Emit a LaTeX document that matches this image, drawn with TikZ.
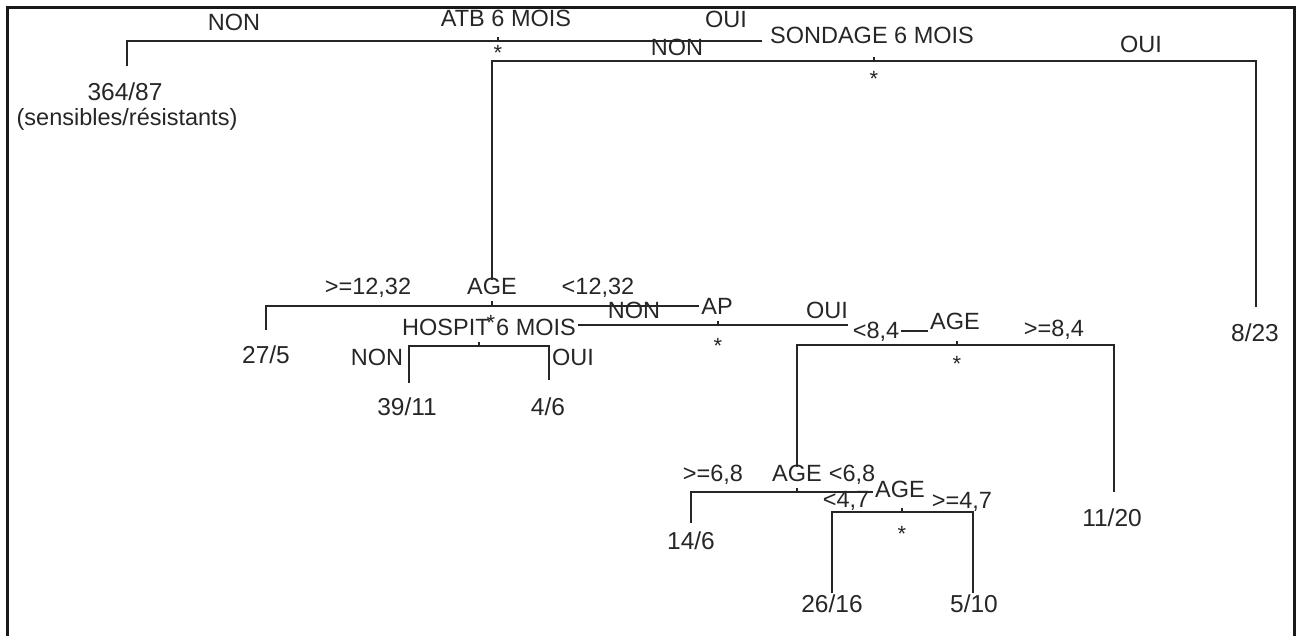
\documentclass[tikz,border=0pt]{standalone}
\usepackage{fontspec}
\setmainfont{Liberation Sans}
\begin{document}
\begin{tikzpicture}[x=1pt,y=-1pt,
  lbl/.style={font=\fontsize{23.5}{28}\selectfont, text=black!85, inner sep=0pt, text height=0.716em, text depth=0pt, anchor=center},
  leaf/.style={lbl, font=\fontsize{24.5}{29}\selectfont},
  starlbl/.style={font=\fontsize{22}{26}\selectfont, text=black!85, inner sep=0pt, anchor=base},
  edge/.style={draw=black!85, line width=1.3pt},
  frame/.style={draw=black!90, line width=3pt}]
\useasboundingbox (0,0) rectangle (1302,635);
\draw[frame] (7.5,640) -- (7.5,7.5) -- (1294.5,7.5) -- (1294.5,640);

% ---- labels ----
\node[lbl] (nonTop) at (234,27) {NON};
\node[lbl] (atb) at (506,23) {ATB 6 MOIS};
\node[lbl] (ouiTop) at (726,24) {OUI};
\node[lbl] (sondage) at (872,40) {SONDAGE 6 MOIS};
\node[lbl] (nonSond) at (677,52) {NON};
\node[lbl] (ouiSond) at (1141,49) {OUI};
\node[leaf] (l364) at (125,97) {364/87};
\node[lbl] (sens) at (127,122) {(sensibles/résistants)};

\node[lbl] (age1) at (492,291) {AGE};
\node[lbl] (ge1232) at (368,291) {>=12,32};
\node[lbl] (lt1232) at (598,291) {<12,32};
\node[leaf] (l275) at (266,360) {27/5};
\node[lbl] (hospit) at (489,332) {HOSPIT 6 MOIS};
\node[lbl] (nonH) at (377,362) {NON};
\node[lbl] (ouiH) at (573,362) {OUI};
\node[leaf] (l3911) at (407,412) {39/11};
\node[leaf] (l46) at (548,412) {4/6};
\node[lbl] (nonAP) at (634,315) {NON};
\node[lbl] (ap) at (717,311) {AP};
\node[lbl] (ouiAP) at (827,315) {OUI};
\node[lbl] (lt84) at (876,335) {<8,4};
\node[lbl] (age2) at (955,326) {AGE};
\node[lbl] (ge84) at (1054,333) {>=8,4};
\node[leaf] (l823) at (1255,338) {8/23};
\node[leaf] (l1120) at (1112,523) {11/20};
\node[lbl] (age3a) at (797,478) {AGE};
\node[lbl] (ge68) at (713,478) {>=6,8};
\node[lbl] (lt68) at (852,478) {<6,8};
\node[leaf] (l146) at (691,546) {14/6};
\node[lbl] (age3b) at (900,494) {AGE};
\node[lbl] (lt47) at (846,504) {<4,7};
\node[lbl] (ge47) at (962,505) {>=4,7};
\node[leaf] (l2616) at (832,609) {26/16};
\node[leaf] (l510) at (974,609) {5/10};

% ---- stars ----
\node[starlbl] (s1) at (498,60) {*};
\node[starlbl] (s2) at (874,86) {*};
\node[starlbl] (s3) at (491,330) {*};
\node[starlbl] (s4) at (718,353) {*};
\node[starlbl] (s5) at (957,371) {*};
\node[starlbl] (s6) at (902,541) {*};

% ---- split lines ----
\coordinate (a1) at (127,66);
\coordinate (a2) at (127,41);
\coordinate (a3) at (762,41);
\draw[edge] (a1) -- (a2) -- (a3);
\draw[edge] (498,37) -- (498,41);

\coordinate (b1) at (492,280);
\coordinate (b2) at (492,61);
\coordinate (b3) at (1256,61);
\coordinate (b4) at (1256,307);
\draw[edge] (b1) -- (b2) -- (b3) -- (b4);
\draw[edge] (874,57) -- (874,61);

\coordinate (c1) at (266,330);
\coordinate (c2) at (266,306);
\coordinate (c3) at (699,306);
\draw[edge] (c1) -- (c2) -- (c3);
\draw[edge] (492,301) -- (492,306);

\coordinate (d1) at (409,383);
\coordinate (d2) at (409,346);
\coordinate (d3) at (549,346);
\coordinate (d4) at (549,380);
\draw[edge] (d1) -- (d2) -- (d3) -- (d4);
\draw[edge] (479,342) -- (479,346);

\coordinate (e1) at (578,325);
\coordinate (e2) at (848,325);
\draw[edge] (e1) -- (e2);
\draw[edge] (718,321) -- (718,325);
\coordinate (e3) at (901,331);
\coordinate (e4) at (928,331);
\draw[edge] (e3) -- (e4);

\coordinate (f1) at (797,467);
\coordinate (f2) at (797,345);
\coordinate (f3) at (1114,345);
\coordinate (f4) at (1114,492);
\draw[edge] (f1) -- (f2) -- (f3) -- (f4);
\draw[edge] (957,341) -- (957,345);

\coordinate (g1) at (691,523);
\coordinate (g2) at (691,492);
\coordinate (g3) at (873,492);
\draw[edge] (g1) -- (g2) -- (g3);
\draw[edge] (797,488) -- (797,492);

\coordinate (h1) at (832,593);
\coordinate (h2) at (832,512);
\coordinate (h3) at (973,512);
\coordinate (h4) at (973,593);
\draw[edge] (h1) -- (h2) -- (h3) -- (h4);
\draw[edge] (902,508) -- (902,512);
\end{tikzpicture}
\end{document}
